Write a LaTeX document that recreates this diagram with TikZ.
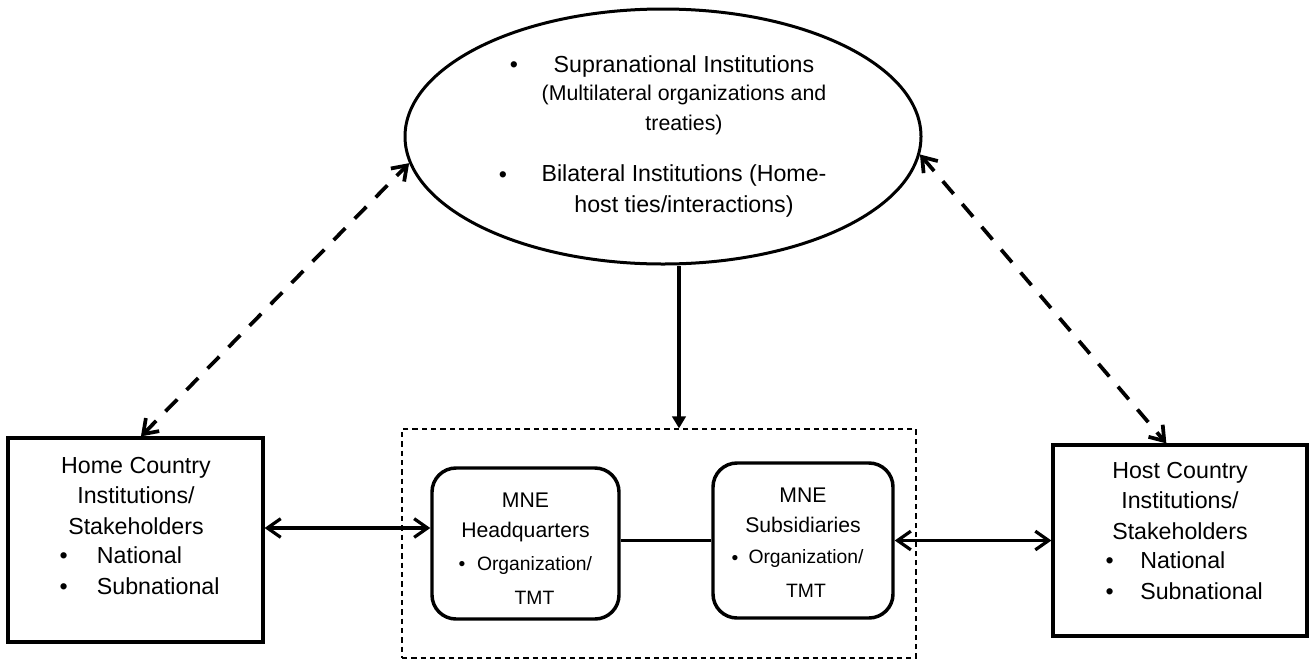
\documentclass[tikz,border=0pt]{standalone}
\usepackage{fontspec}
\setmainfont{Liberation Sans}
\usetikzlibrary{arrows.meta,shapes.geometric}

\tikzset{every picture/.style={line width=0.75pt}}
\tikzset{
  fA/.style={font=\fontsize{17.4}{22.7}\selectfont},
  fB/.style={font=\fontsize{16}{22.5}\selectfont},
  fC/.style={font=\fontsize{15.9}{22.5}\selectfont},
  fD/.style={font=\fontsize{14.5}{25.2}\selectfont},
  txt/.style={inner sep=0pt,anchor=base},
  instshape/.style={draw,ellipse,line width=2.25pt,inner sep=0pt,minimum width=387pt,minimum height=191.25pt},
  countrybox/.style={draw,rectangle,line width=2.4pt,inner sep=0pt},
  mnebox/.style={draw,rectangle,rounded corners=18pt,line width=2.6pt,inner sep=0pt},
  groupbox/.style={draw,rectangle,line width=0.9pt,dash pattern=on 4pt off 3pt,inner sep=0pt,minimum width=385.5pt,minimum height=171.75pt},
  barb/.style={line width=2.4pt,{Straight Barb[length=10pt,width=14pt]}-{Straight Barb[length=10pt,width=14pt]}},
  dashbarb/.style={line width=2.8pt,dash pattern=on 12.5pt off 10pt,{Straight Barb[length=10pt,width=14pt]}-{Straight Barb[length=10pt,width=14pt]}},
  downarrow/.style={line width=2.4pt,-{Triangle[length=9pt,width=10pt]}},
}

\begin{document}
\begin{tikzpicture}[x=0.75pt,y=0.75pt,yscale=-1,xscale=1]
\useasboundingbox (0,0) rectangle (1309,661);

%Shape: Ellipse
\node[instshape] (inst) at (663,136.5) {};
%Shape: Rectangle
\node[countrybox,minimum width=191.25pt,minimum height=153pt] (home) at (135.5,540) {};
\node[countrybox,minimum width=190.5pt,minimum height=143.25pt] (host) at (1180,540.5) {};
%Shape: Dashed Rectangle
\node[groupbox] (grp) at (659,543.5) {};
%Rounded Rect
\node[mnebox,minimum width=140.25pt,minimum height=113.25pt] (hq) at (525.5,543.5) {};
\node[mnebox,minimum width=135pt,minimum height=116.25pt] (subs) at (803,540.5) {};

%Straight Lines
\draw[downarrow] ([xshift=12pt]inst.south) -- ([xshift=12pt]inst.south |- grp.north);
\draw[line width=2.2pt] (hq.east |- subs.west) -- (subs.west);
\draw[barb] ([yshift=-9pt]home.east) -- ([yshift=-9pt]home.east -| hq.west);
\draw[barb] (subs.east) -- (host.west);
%Dashed Lines
\draw[dashbarb] (home.87) -- (inst.186);
\draw[dashbarb] (inst.-4) -- (host.98);

% Text Node (base = last line)
\node[txt,fA] (b1) at (514,72) {\textbullet};
\node[txt,fA] (supra) at (684,72) {Supranational Institutions};
\node[txt,fB,align=center] (multi) at (684,130) {(Multilateral organizations and\\treaties)};
\node[txt,fA] (b2) at (503,182) {\textbullet};
\node[txt,fA,align=center] (bilat) at (684,212) {Bilateral Institutions (Home-\\host ties/interactions)};
% Text Node
\node[txt,fA,align=center] (homeT) at (136,534) {Home Country\\Institutions/\\Stakeholders};
\node[txt,fA,align=left,anchor=base west] (homeL) at (59,594) {\textbullet\hspace{22pt}National\\\textbullet\hspace{22pt}Subnational};
% Text Node
\node[txt,fA,align=center] (hostT) at (1180,539) {Host Country\\Institutions/\\Stakeholders};
\node[txt,fA,align=left,anchor=base west] (hostL) at (1105,599) {\textbullet\hspace{20pt}National\\\textbullet\hspace{20pt}Subnational};
% Text Node
\node[txt,fC,align=center] (hqT) at (525.5,537) {MNE\\Headquarters};
\node[txt,fD] (hqB) at (462,570) {\textbullet};
\node[txt,fD,align=center] (hqL) at (534.5,604) {Organization/\\TMT};
% Text Node
\node[txt,fC,align=center] (subsT) at (803,532) {MNE\\Subsidiaries};
\node[txt,fD] (subsB) at (735,564) {\textbullet};
\node[txt,fD,align=center] (subsL) at (806,597) {Organization/\\TMT};

\end{tikzpicture}
\end{document}
